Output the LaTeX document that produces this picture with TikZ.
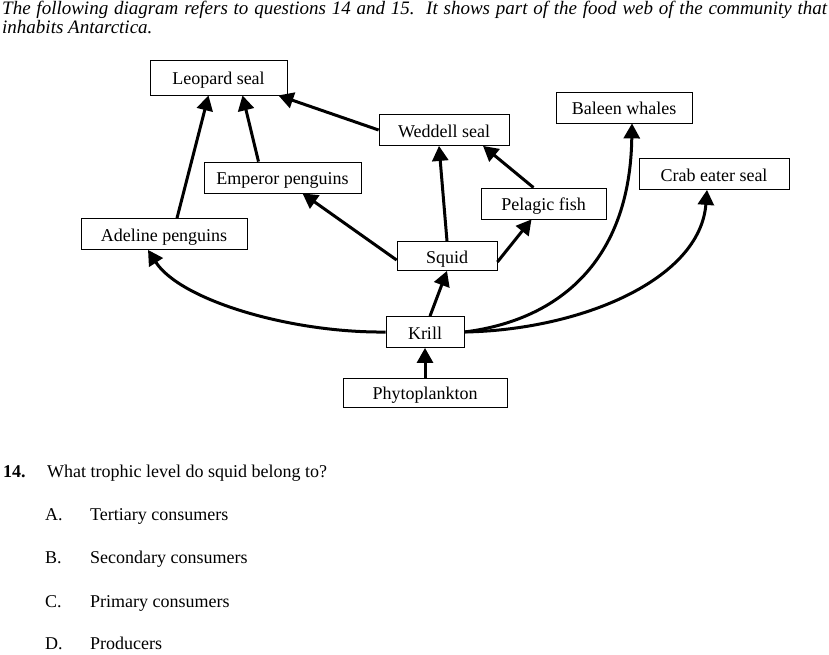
\documentclass[tikz,border=0pt]{standalone}
\usepackage{fontspec}
\setmainfont{Liberation Serif}
\usetikzlibrary{arrows.meta}

\begin{document}
\begin{tikzpicture}[x=1pt, y=-1pt,
    every node/.style={font=\fontsize{18}{21}\selectfont},
    box/.style={draw, line width=0.8pt, inner sep=0pt, minimum height=31pt,
        text height=14pt, text depth=0pt},
    feed/.style={line width=3pt, -{Triangle[length=15pt,width=16pt]}}]
    \useasboundingbox (0,0) rectangle (829,654);

    % --- header ---
    \node[anchor=north west, text width=825pt, align=justify, inner sep=0pt,
          font=\fontsize{19}{19}\selectfont\itshape] (head) at (2,1)
        {The following diagram refers to questions 14 and 15.\ \ It shows part of the food web of the community that\linebreak inhabits Antarctica.};

    % --- food web boxes ---
    \node[box, minimum width=137pt, minimum height=35pt] (leopard) at (218.5,77.5) {Leopard seal};
    \node[box, minimum width=130pt] (weddell) at (444,130) {Weddell seal};
    \node[box, minimum width=136pt] (baleen) at (624,107.5) {Baleen whales};
    \node[box, minimum width=157pt] (emperor) at (282.5,177.5) {Emperor penguins};
    \node[box, minimum width=150pt] (crab) at (714,174) {Crab eater seal};
    \node[box, minimum width=125pt] (pelagic) at (543.5,203.5) {Pelagic fish};
    \node[box, minimum width=166pt] (adeline) at (164,234) {Adeline penguins};
    \node[box, minimum width=100pt, minimum height=29pt] (squid) at (447,256) {Squid};
    \node[box, minimum width=78pt] (krill) at (425,332) {Krill};
    \node[box, minimum width=164pt, minimum height=29pt] (phyto) at (425,392.5) {Phytoplankton};

    % --- who eats whom ---
    \draw[feed] (phyto.north) -- (krill.south);
    \draw[feed] ([xshift=5pt]krill.north) -- (squid.south);
    \draw[feed] ([yshift=-4pt]squid.west) -- ([xshift=20pt]emperor.south);
    \draw[feed] ([yshift=-6pt]squid.east) -- ([xshift=-12pt]pelagic.south);
    \draw[feed] (squid.north) -- ([xshift=-5pt]weddell.south);
    \draw[feed] ([xshift=-10pt]pelagic.north) -- ([xshift=39pt]weddell.south);
    \draw[feed] (weddell.west) -- ([xshift=-9pt]leopard.south east);
    \draw[feed] ([xshift=-24pt]emperor.north) -- ([xshift=24pt]leopard.south);
    \draw[feed] ([xshift=13pt]adeline.north) -- ([xshift=-10pt]leopard.south);
    % curved links out of krill
    \draw[feed] (krill.west) .. controls (290,333) and (180,300) .. ([xshift=-16pt]adeline.south);
    \draw[feed] (krill.east) .. controls (560,320) and (630,260) .. ([xshift=8pt]baleen.south);
    \draw[feed] (krill.east) .. controls (580,330) and (700,280) .. ([xshift=-7pt]crab.south);

    % --- question 14 ---
    \node[anchor=base west, inner sep=0pt, font=\fontsize{18}{21}\selectfont\bfseries] (qnum) at (3,477) {14.};
    \node[anchor=base west, inner sep=0pt] (qtext) at (47,477) {What trophic level do squid belong to?};
    \node[anchor=base west, inner sep=0pt] (la) at (45,520) {A.};
    \node[anchor=base west, inner sep=0pt] (oa) at (90,520) {Tertiary consumers};
    \node[anchor=base west, inner sep=0pt] (lb) at (45,563) {B.};
    \node[anchor=base west, inner sep=0pt] (ob) at (90,563) {Secondary consumers};
    \node[anchor=base west, inner sep=0pt] (lc) at (45,607) {C.};
    \node[anchor=base west, inner sep=0pt] (oc) at (90,607) {Primary consumers};
    \node[anchor=base west, inner sep=0pt] (ld) at (45,649) {D.};
    \node[anchor=base west, inner sep=0pt] (od) at (90,649) {Producers};
\end{tikzpicture}
\end{document}
